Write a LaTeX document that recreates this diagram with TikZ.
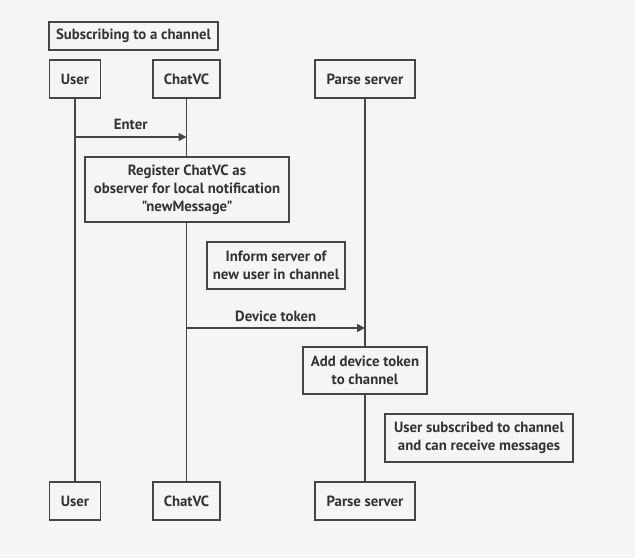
\documentclass[tikz,border=0pt]{standalone}
\usepackage{fontspec}
\setmainfont{PT Sans}[Ligatures=TeXOff]
\usetikzlibrary{arrows.meta}
\definecolor{bg}{HTML}{F5F5F5}
\definecolor{ink}{HTML}{454545}
\definecolor{txt}{HTML}{333333}
\tikzset{
	box/.style={draw=ink, line width=1.6pt, fill=bg, text=txt, font=\bfseries\fontsize{14.8}{18}\selectfont, align=center, inner sep=0pt},
	lbl/.style={text=txt, font=\bfseries\fontsize{14.8}{18}\selectfont, inner sep=0pt},
	life/.style={draw=ink, line width=1.6pt},
	msg/.style={draw=ink, line width=1.6pt, -{Triangle[length=8pt,width=8pt]}}
}
\begin{document}
\begin{tikzpicture}[x=1pt,y=-1pt]
	\fill [bg] (0,0) rectangle (635,558);

	\coordinate (userA) at (75,98);
	\coordinate (userB) at (75,482);
	\coordinate (chatA) at (186.5,98);
	\coordinate (chatB) at (186.5,482);
	\coordinate (parseA) at (365,98);
	\coordinate (parseB) at (365,482);

	\draw [life] (userA) -- (userB);
	\draw [life] (chatA) -- (chatB);
	\draw [life] (parseA) -- (parseB);

	\node [box, minimum width=169, minimum height=28] (title) at (133.5,36) {Subscribing to a channel};

	\node [box, minimum width=51, minimum height=38] (userTop) at (75,79) {User};
	\node [box, minimum width=67, minimum height=38] (chatTop) at (186.5,79) {ChatVC};
	\node [box, minimum width=100, minimum height=38] (parseTop) at (365,79) {Parse server};

	\node [box, minimum width=51, minimum height=38] (userBot) at (75,501) {User};
	\node [box, minimum width=67, minimum height=38] (chatBot) at (186.5,501) {ChatVC};
	\node [box, minimum width=100, minimum height=38] (parseBot) at (365,501) {Parse server};

	\coordinate (enterA) at (75,137);
	\coordinate (enterB) at (186.5,137);
	\draw [msg] (enterA) -- node [lbl, above=6pt] {Enter} (enterB);

	\node [box, minimum width=204, minimum height=65] (register) at (187,189.5) {Register ChatVC as\\observer for local notification\\"newMessage"};

	\node [box, minimum width=138, minimum height=47] (inform) at (276,265.5) {Inform server of\\new user in channel};

	\coordinate (tokenA) at (186.5,328);
	\coordinate (tokenB) at (365,328);
	\draw [msg] (tokenA) -- node [lbl, above=6pt] {Device token} (tokenB);

	\node [box, minimum width=124, minimum height=47] (addtoken) at (365,370.5) {Add device token\\to channel};

	\node [box, minimum width=188, minimum height=48] (subscribed) at (479,438) {User subscribed to channel\\and can receive messages};
\end{tikzpicture}
\end{document}
